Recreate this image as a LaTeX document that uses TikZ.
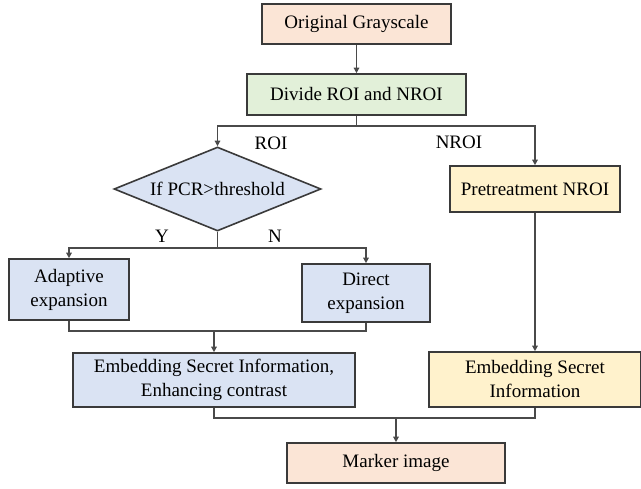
\documentclass[tikz,border=0pt]{standalone}
\usepackage{fontspec}
\setmainfont{Liberation Serif}
\usetikzlibrary{arrows.meta,shapes.geometric}
\definecolor{peach}{HTML}{FBE5D6}
\definecolor{lgreen}{HTML}{E2F0D9}
\definecolor{lblue}{HTML}{DAE3F3}
\definecolor{lyellow}{HTML}{FFF2CC}
\definecolor{bord}{HTML}{3A3A3A}
\definecolor{conn}{HTML}{4A4A4A}
\tikzset{
  box/.style={draw=bord, line width=1.6pt, inner sep=0pt, align=center,
    font=\fontsize{19}{24}\selectfont},
  lab/.style={inner sep=0pt, font=\fontsize{19}{24}\selectfont},
  arr/.style={draw=conn, line width=1.3pt, -{Triangle[length=5.5pt,width=5.5pt]}},
  ln/.style={draw=conn, line width=1.3pt},
}
\begin{document}
\begin{tikzpicture}[x=1pt,y=-1pt]
\useasboundingbox (0,0) rectangle (641,489);
\node[box, fill=peach, minimum width=189pt, minimum height=40pt] (orig) at (356.5,24) {Original Grayscale};
\node[box, fill=lgreen, minimum width=219pt, minimum height=41pt] (div) at (356.5,94.5) {Divide ROI and NROI};
\node[box, fill=lblue, shape=diamond, aspect=2.46, minimum width=207pt, minimum height=84pt] (dia) at (217.5,189) {If PCR>threshold};
\node[box, fill=lyellow, minimum width=170pt, minimum height=46pt] (pre) at (535,189) {Pretreatment NROI};
\node[box, fill=lblue, minimum width=120pt, minimum height=61pt] (adapt) at (69,289.5) {Adaptive\\expansion};
\node[box, fill=lblue, minimum width=128pt, minimum height=58pt] (direct) at (366,293) {Direct\\expansion};
\node[box, fill=lblue, minimum width=282pt, minimum height=54pt] (embL) at (214,380) {Embedding Secret Information,\\Enhancing contrast};
\node[box, fill=lyellow, minimum width=212pt, minimum height=55pt] (embR) at (535,379.5) {Embedding Secret\\Information};
\node[box, fill=peach, minimum width=218pt, minimum height=40pt] (marker) at (396,463) {Marker image};

\node[lab] (lroi) at (271,143) {ROI};
\node[lab] (lnroi) at (459,142) {NROI};
\node[lab] (ly) at (162,236) {Y};
\node[lab] (ln) at (275,236) {N};

\coordinate (b1) at (356.5,126);
\coordinate (b2) at (217.5,248);
\coordinate (m1) at (214,331);
\coordinate (m2) at (396,418);

\draw[arr] (orig) -- (div);
\draw[ln] (div) -- (b1);
\draw[arr] (b1) -| (dia.north);
\draw[arr] (b1) -| (pre.north);
\draw[ln] (dia.south) -- (b2);
\draw[arr] (b2) -| (adapt.north);
\draw[arr] (b2) -| (direct.north);
\draw[ln] (adapt.south) |- (m1);
\draw[ln] (direct.south) |- (m1);
\draw[arr] (m1) -- (embL.north);
\draw[arr] (pre) -- (embR);
\draw[ln] (embL.south) |- (m2);
\draw[ln] (embR.south) |- (m2);
\draw[arr] (m2) -- (marker);
\end{tikzpicture}
\end{document}
